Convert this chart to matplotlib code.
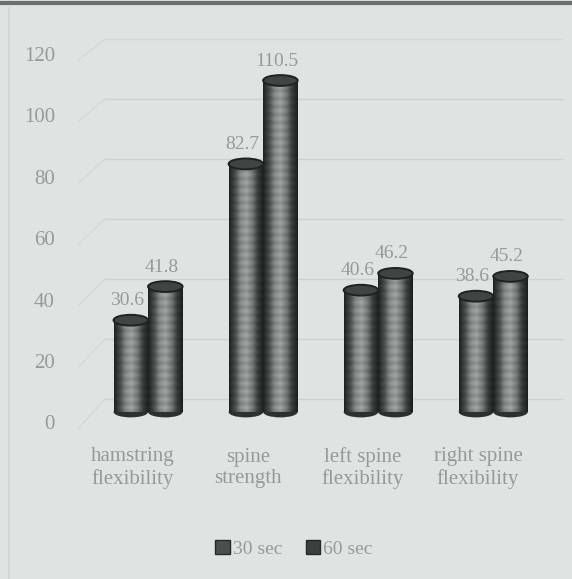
import numpy as np
import matplotlib.pyplot as plt
from matplotlib.patches import Ellipse, Rectangle
from matplotlib.lines import Line2D
from matplotlib.colors import LinearSegmentedColormap

categories = ['hamstring\nflexibility', 'spine\nstrength', 'left spine\nflexibility', 'right spine\nflexibility']
series_names = ['30 sec', '60 sec']
sec30 = [30.6, 82.7, 40.6, 38.6]
sec60 = [41.8, 110.5, 46.2, 45.2]
yticks = [0, 20, 40, 60, 80, 100, 120]

W, H = 572, 579
bg = '#dfe4e2'
txt = '#969a98'
serif = 'Liberation Serif'

fig = plt.figure(figsize=(W / 100, H / 100), dpi=100, facecolor=bg)
# 3 px per unit, base of the bars at y=412
ax = fig.add_axes([75 / W, 167 / H, 485 / W, 360 / H])
ax.set_facecolor('none')
ax.set_xlim(-0.635, 3.58)
ax.set_ylim(0, 120)
for s in ax.spines.values():
    s.set_visible(False)
ax.set_xticks([])
ax.set_yticks([])

# back wall gridlines, pushed up and right for the 3d look
lift = 4.5
for v in yticks:
    ty = -4.3 + 1.023 * v
    gc = '#d4d9d7' if v == 120 else '#cdd2d0'
    ax.plot([-0.37, 3.6], [v + lift, v + lift], color=gc, lw=1.0, zorder=0, clip_on=False)
    ax.plot([-0.6, -0.37], [ty - 1.0, v + lift], color='#d3d8d6', lw=0.9, zorder=0, clip_on=False)
    ax.text(-0.81, ty, str(v), ha='right', va='center', color=txt,
            fontsize=15, family=serif)

cyl = LinearSegmentedColormap.from_list('cyl', ['#1f2423', '#4a504e', '#8a908d',
                                                '#a3a8a5', '#7b817e', '#3c4240', '#1c201f'])
grad = np.linspace(0, 1, 64)[None, :]

bw = 0.30
ell_h = 3.6


def cylinder(x, h):
    rect = Rectangle((x - bw / 2, 0), bw, h, transform=ax.transData)
    rows = max(int(h * 3), 2)
    # banding every ~8 px down the barrel
    band = (1 - 0.12 * (0.5 + 0.5 * np.cos(np.arange(rows) * 2 * np.pi / 8)))[:, None, None]
    img = cyl(np.repeat(grad, rows, axis=0))[..., :3] * band
    im = ax.imshow(img, extent=[x - bw / 2, x + bw / 2, 0, h], aspect='auto',
                   origin='lower', zorder=2, interpolation='bilinear')
    im.set_clip_path(rect)
    ax.add_patch(Ellipse((x, 0), bw, ell_h, facecolor='#2c3130', edgecolor='none', zorder=1.9,
                         clip_on=False))
    ax.add_patch(Ellipse((x, h), bw, ell_h, facecolor='#3f4543', edgecolor='#1e2221',
                         lw=1.4, zorder=3))


x = np.arange(len(categories))
for i in range(len(categories)):
    cylinder(x[i] - bw / 2, sec30[i])
    cylinder(x[i] + bw / 2, sec60[i])
    ax.text(x[i] - bw / 2 - 0.03, sec30[i] + 6.5, f'{sec30[i]}', ha='center', va='center',
            color=txt, fontsize=14, family=serif)
    ax.text(x[i] + bw / 2 - 0.03, sec60[i] + 6.5, f'{sec60[i]}', ha='center', va='center',
            color=txt, fontsize=14, family=serif)

for i, c in enumerate(categories):
    fig.text((75 + 115 * (x[i] + 0.635) - 15) / W, 1 - 468 / H, c, ha='center', va='center',
             color=txt, fontsize=15, family=serif, linespacing=1.15)

handles = [Rectangle((0, 0), 1, 1, facecolor='#4a504e', edgecolor='#252928'),
           Rectangle((0, 0), 1, 1, facecolor='#3a403e', edgecolor='#252928')]
leg = fig.legend(handles, series_names, loc='center', bbox_to_anchor=(294 / W, 1 - 549 / H),
                 ncol=2, frameon=False, handlelength=0.75, handleheight=0.75,
                 handletextpad=0.15, columnspacing=1.2,
                 prop={'family': serif, 'size': 14})
for t in leg.get_texts():
    t.set_color(txt)

# frame edges
fig.add_artist(Line2D([0, 1], [1 - 3 / H, 1 - 3 / H], color='#6c706f', lw=3))
fig.add_artist(Line2D([9 / W, 9 / W], [0, 1 - 8 / H], color='#d0d5d3', lw=1.2))

fig.savefig('out.png', dpi=100, facecolor=bg)
